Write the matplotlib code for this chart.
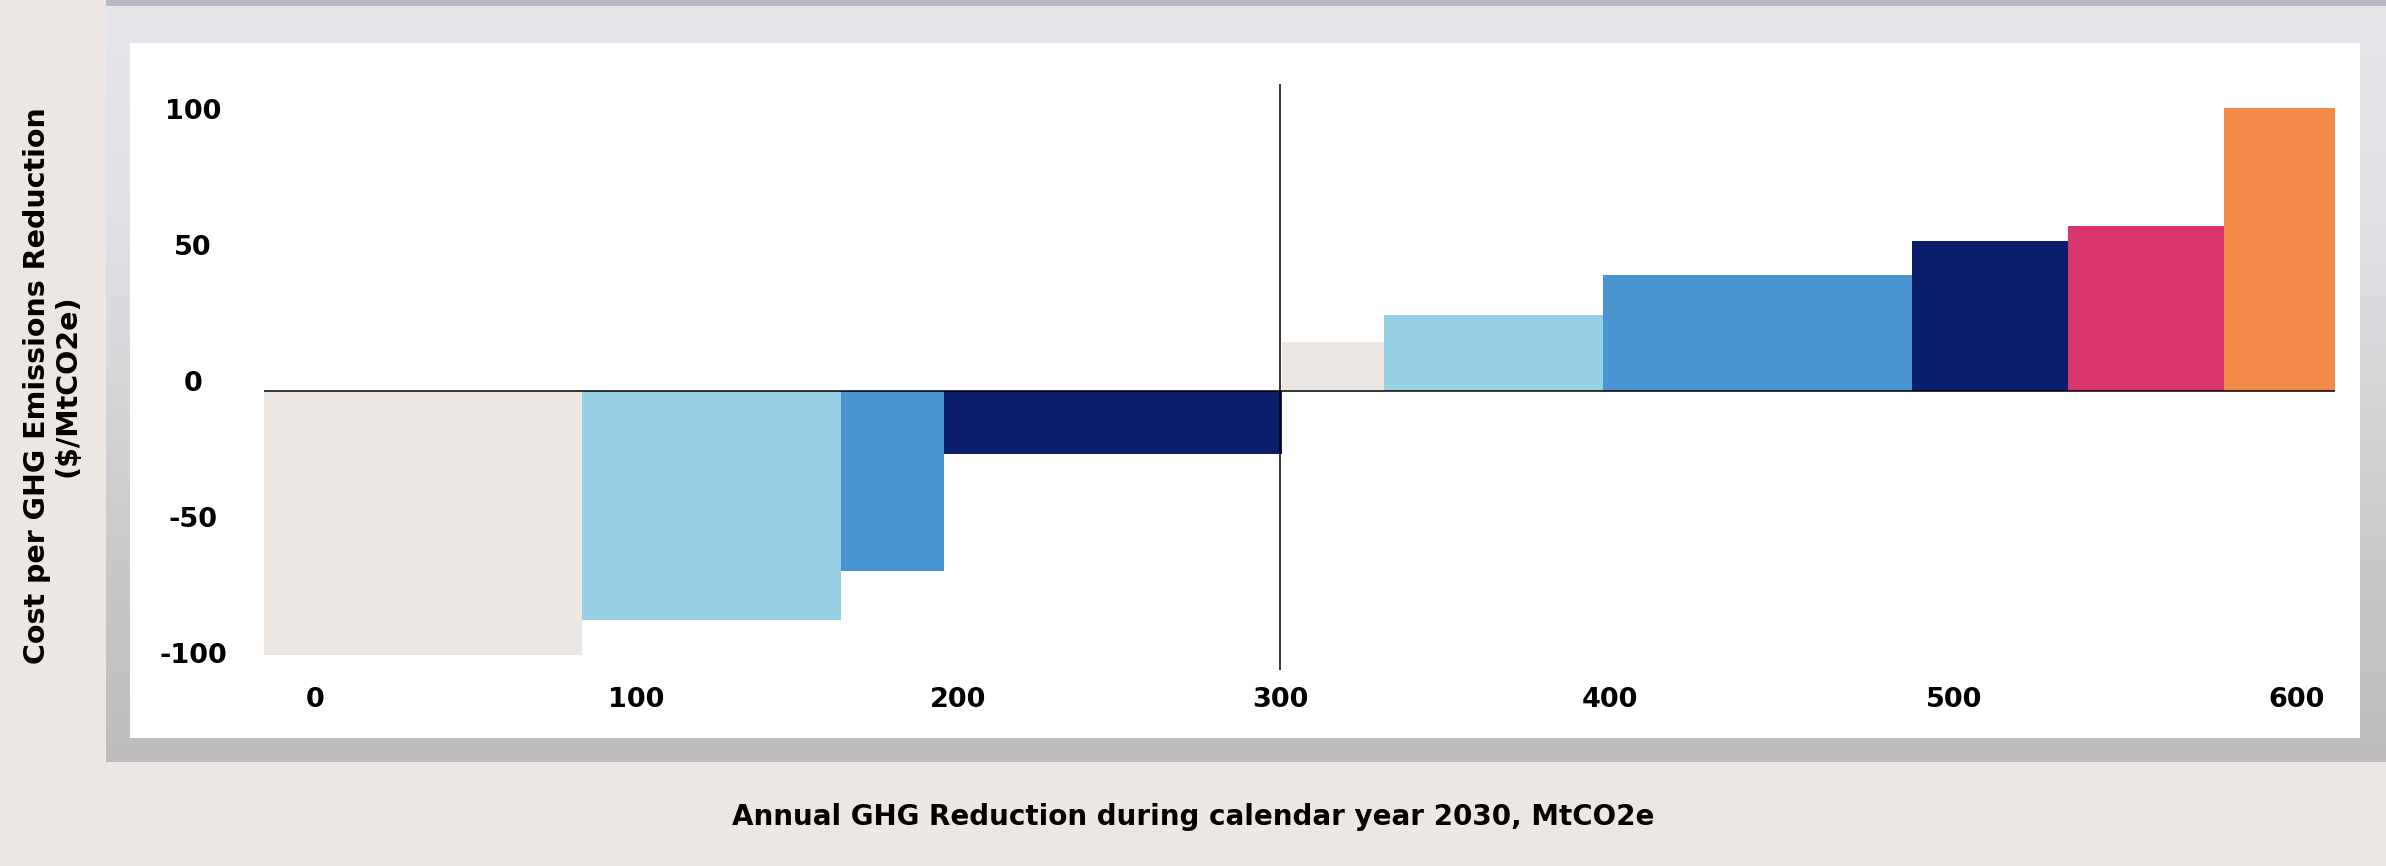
import matplotlib
matplotlib.use('Agg')
import matplotlib.pyplot as plt
import matplotlib.transforms as mtransforms
from matplotlib.patches import Rectangle
import numpy as np

# Marginal abatement cost curve data (MtCO2e widths, $/MtCO2e costs)
bar_start = -16
bar_widths = [99, 80.5, 32, 105, 32, 68, 96, 48.5, 48.5, 34.5]
bar_costs = [-97, -84, -66, -23, 18, 28, 42.5, 55, 60.5, 104]
bar_colors = ["#ECE7E3", "#97D0E4", "#4A95D1", "#0B1F6D", "#ECE7E3",
              "#97D0E4", "#4A95D1", "#0B1F6D", "#D9366D", "#F28B4A"]

x_tick_pos = [0, 100, 200, 300, 402.6, 509.5, 616.2]
x_tick_labels = ["0", "100", "200", "300", "400", "500", "600"]
y_ticks = [-100, -50, 0, 50, 100]

W, H = 2386, 866
beige = "#ECE7E3"
font = "DejaVu Sans"

fig = plt.figure(figsize=(W / 100, H / 100), dpi=100, facecolor=beige)

# backdrop: blurred photo band + white card, drawn in pixel coordinates
bg = fig.add_axes([0, 0, 1, 1], zorder=-1)
bg.set_xlim(0, W)
bg.set_ylim(H, 0)
bg.axis('off')
grad = np.linspace(0, 1, 256).reshape(-1, 1)
band_cmap = matplotlib.colors.LinearSegmentedColormap.from_list(
    "band", ["#E6E6EA", "#E1E2E5", "#D6D7D9", "#C9C8C8", "#BDBBBB"])
bg.imshow(grad, cmap=band_cmap, extent=[106, W, 762, 6], aspect='auto')
bg.add_patch(Rectangle((106, 0), W - 106, 6, color="#B9B9C6", lw=0))
bg.add_patch(Rectangle((130, 43), 2230, 695, color="white", lw=0))

# main plot area
ax = fig.add_axes([263.5 / W, 1 - 670 / H, (2335 - 263.5) / W, (670 - 83.9) / H])
ax.set_facecolor('none')
lefts = bar_start + np.concatenate([[0], np.cumsum(bar_widths)[:-1]])
ax.bar(lefts, bar_costs, width=bar_widths, align='edge', color=bar_colors,
       linewidth=0, zorder=2)
ax.axhline(0, color="black", linewidth=1.1, zorder=3)
ax.axvline(300, color="black", linewidth=1.1, zorder=3)

ax.set_xlim(-16, 628)
ax.set_ylim(-102.4, 112.7)
for s in ax.spines.values():
    s.set_visible(False)

ax.set_xticks(x_tick_pos)
ax.set_xticklabels(x_tick_labels, fontsize=19.5, fontweight='bold', family=font)
ax.set_yticks(y_ticks)
ax.set_yticklabels([str(v) for v in y_ticks], fontsize=19.5, fontweight='bold',
                   family=font, ha='center')
ax.tick_params(axis='both', length=0)
ax.tick_params(axis='x', pad=12)
ax.tick_params(axis='y', pad=50.8)
offset = mtransforms.ScaledTranslation(0, 10 / 100, fig.dpi_scale_trans)
for lab in ax.get_yticklabels():
    lab.set_transform(lab.get_transform() + offset)

fig.text(52 / W, 1 - 386 / H, "Cost per GHG Emissions Reduction\n($/MtCO2e)",
         rotation=90, ha='center', va='center', multialignment='center',
         fontsize=20.5, fontweight='bold', family=font, linespacing=1.1)
fig.text(1193 / W, 1 - 817 / H, "Annual GHG Reduction during calendar year 2030, MtCO2e",
         ha='center', va='center', fontsize=20, fontweight='bold', family=font)

fig.savefig("out.png", dpi=100, facecolor=beige)
plt.close(fig)
